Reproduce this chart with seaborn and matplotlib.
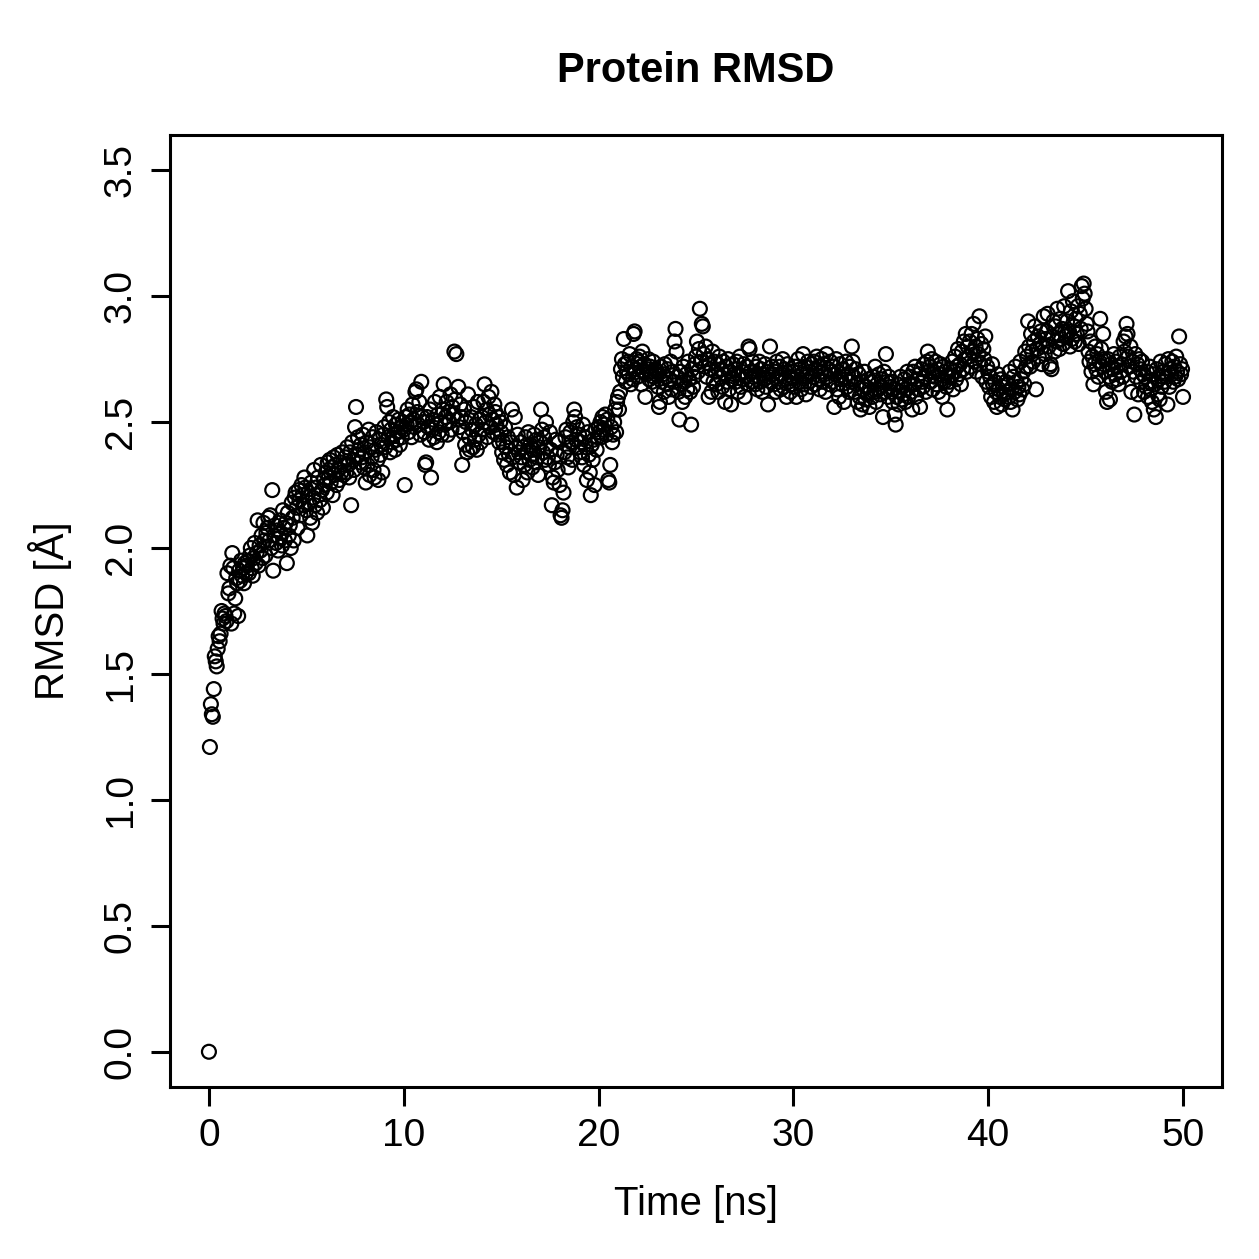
import numpy as np
import pandas as pd
import matplotlib
matplotlib.use("Agg")
import matplotlib.pyplot as plt
import seaborn as sns

# RMSD values (Å), 20 frames per ns, frame spacing 0.05 ns
rmsd_00 = [0.00, 1.21, 1.38, 1.34, 1.33, 1.44, 1.57, 1.55, 1.53, 1.60, 1.65, 1.63, 1.66, 1.75, 1.72, 1.70, 1.74, 1.73, 1.71, 1.90]
rmsd_01 = [1.82, 1.84, 1.93, 1.70, 1.98, 1.92, 1.74, 1.80, 1.88, 1.86, 1.73, 1.91, 1.87, 1.95, 1.89, 1.92, 1.86, 1.94, 1.90, 1.93]
rmsd_02 = [1.95, 1.90, 1.97, 2.00, 1.92, 1.89, 1.96, 2.02, 1.94, 1.98, 2.11, 1.93, 2.01, 1.99, 2.05, 1.96, 2.10, 2.03, 1.97, 2.06]
rmsd_03 = [2.08, 2.12, 2.03, 2.13, 2.00, 2.23, 1.91, 2.05, 2.09, 2.02, 2.07, 1.99, 2.04, 2.11, 2.06, 2.01, 2.15, 2.08, 2.03, 2.10]
rmsd_04 = [1.94, 2.14, 2.05, 2.09, 2.00, 2.18, 2.12, 2.03, 2.20, 2.22, 2.16, 2.08, 2.23, 2.19, 2.13, 2.25, 2.21, 2.17, 2.28, 2.24]
rmsd_05 = [2.15, 2.05, 2.22, 2.18, 2.12, 2.26, 2.10, 2.20, 2.31, 2.17, 2.24, 2.14, 2.28, 2.21, 2.19, 2.33, 2.23, 2.16, 2.27, 2.25]
rmsd_06 = [2.30, 2.22, 2.34, 2.28, 2.35, 2.26, 2.32, 2.21, 2.36, 2.29, 2.33, 2.25, 2.37, 2.31, 2.27, 2.34, 2.30, 2.38, 2.29, 2.33]
rmsd_07 = [2.36, 2.30, 2.40, 2.33, 2.28, 2.38, 2.17, 2.42, 2.35, 2.31, 2.48, 2.56, 2.37, 2.44, 2.39, 2.34, 2.41, 2.36, 2.45, 2.32]
rmsd_08 = [2.38, 2.26, 2.42, 2.33, 2.47, 2.29, 2.40, 2.36, 2.44, 2.31, 2.28, 2.39, 2.46, 2.35, 2.27, 2.43, 2.37, 2.41, 2.30, 2.45]
rmsd_09 = [2.48, 2.40, 2.59, 2.56, 2.44, 2.50, 2.38, 2.47, 2.42, 2.52, 2.45, 2.39, 2.49, 2.43, 2.46, 2.51, 2.41, 2.48, 2.44, 2.50]
rmsd_10 = [2.47, 2.25, 2.52, 2.49, 2.55, 2.46, 2.53, 2.50, 2.44, 2.57, 2.51, 2.48, 2.62, 2.63, 2.54, 2.49, 2.58, 2.45, 2.66, 2.52]
rmsd_11 = [2.50, 2.46, 2.33, 2.34, 2.52, 2.48, 2.43, 2.55, 2.28, 2.47, 2.51, 2.44, 2.58, 2.49, 2.42, 2.53, 2.46, 2.60, 2.50, 2.45]
rmsd_12 = [2.55, 2.65, 2.49, 2.52, 2.58, 2.45, 2.54, 2.50, 2.61, 2.47, 2.56, 2.53, 2.78, 2.59, 2.77, 2.51, 2.64, 2.48, 2.57, 2.52]
rmsd_13 = [2.33, 2.46, 2.55, 2.41, 2.50, 2.38, 2.61, 2.44, 2.39, 2.52, 2.47, 2.40, 2.56, 2.43, 2.49, 2.39, 2.58, 2.45, 2.51, 2.42]
rmsd_14 = [2.52, 2.47, 2.58, 2.65, 2.50, 2.55, 2.44, 2.60, 2.53, 2.48, 2.62, 2.51, 2.46, 2.57, 2.54, 2.49, 2.45, 2.52, 2.42, 2.50]
rmsd_15 = [2.46, 2.38, 2.42, 2.35, 2.48, 2.40, 2.33, 2.44, 2.37, 2.30, 2.42, 2.55, 2.36, 2.29, 2.52, 2.40, 2.24, 2.45, 2.38, 2.34]
rmsd_16 = [2.42, 2.36, 2.27, 2.40, 2.33, 2.44, 2.38, 2.30, 2.46, 2.35, 2.41, 2.37, 2.32, 2.39, 2.45, 2.34, 2.43, 2.36, 2.29, 2.40]
rmsd_17 = [2.42, 2.55, 2.47, 2.38, 2.44, 2.35, 2.50, 2.40, 2.36, 2.33, 2.46, 2.39, 2.17, 2.28, 2.26, 2.34, 2.43, 2.37, 2.31, 2.42]
rmsd_18 = [2.25, 2.13, 2.12, 2.15, 2.22, 2.38, 2.44, 2.47, 2.36, 2.32, 2.40, 2.46, 2.42, 2.35, 2.50, 2.55, 2.52, 2.43, 2.48, 2.40]
rmsd_19 = [2.45, 2.38, 2.42, 2.36, 2.49, 2.33, 2.44, 2.40, 2.27, 2.46, 2.37, 2.30, 2.21, 2.41, 2.35, 2.43, 2.25, 2.47, 2.39, 2.44]
rmsd_20 = [2.48, 2.46, 2.50, 2.44, 2.52, 2.47, 2.49, 2.53, 2.45, 2.51, 2.27, 2.26, 2.33, 2.48, 2.42, 2.45, 2.50, 2.55, 2.46, 2.58]
rmsd_21 = [2.60, 2.55, 2.62, 2.71, 2.75, 2.68, 2.83, 2.73, 2.66, 2.70, 2.74, 2.69, 2.77, 2.65, 2.72, 2.67, 2.85, 2.86, 2.71, 2.75]
rmsd_22 = [2.68, 2.74, 2.76, 2.72, 2.65, 2.78, 2.70, 2.73, 2.60, 2.69, 2.71, 2.75, 2.67, 2.72, 2.70, 2.66, 2.74, 2.68, 2.71, 2.69]
rmsd_23 = [2.70, 2.64, 2.56, 2.58, 2.72, 2.66, 2.69, 2.62, 2.73, 2.68, 2.65, 2.71, 2.60, 2.67, 2.74, 2.63, 2.70, 2.66, 2.82, 2.87]
rmsd_24 = [2.78, 2.68, 2.62, 2.51, 2.70, 2.65, 2.58, 2.72, 2.66, 2.60, 2.69, 2.63, 2.74, 2.67, 2.62, 2.49, 2.71, 2.64, 2.68, 2.73]
rmsd_25 = [2.76, 2.82, 2.70, 2.79, 2.95, 2.74, 2.89, 2.88, 2.77, 2.72, 2.80, 2.68, 2.75, 2.60, 2.73, 2.71, 2.62, 2.78, 2.66, 2.74]
rmsd_26 = [2.70, 2.65, 2.73, 2.62, 2.76, 2.68, 2.71, 2.64, 2.74, 2.69, 2.58, 2.72, 2.66, 2.75, 2.63, 2.70, 2.57, 2.67, 2.73, 2.69]
rmsd_27 = [2.71, 2.66, 2.74, 2.62, 2.69, 2.76, 2.64, 2.70, 2.67, 2.73, 2.60, 2.68, 2.72, 2.65, 2.80, 2.79, 2.70, 2.66, 2.74, 2.68]
rmsd_28 = [2.70, 2.65, 2.72, 2.63, 2.68, 2.74, 2.66, 2.71, 2.62, 2.69, 2.67, 2.73, 2.64, 2.70, 2.57, 2.68, 2.80, 2.66, 2.72, 2.69]
rmsd_29 = [2.65, 2.70, 2.62, 2.74, 2.68, 2.66, 2.72, 2.63, 2.69, 2.75, 2.64, 2.71, 2.67, 2.60, 2.73, 2.66, 2.70, 2.62, 2.68, 2.65]
rmsd_30 = [2.70, 2.64, 2.72, 2.60, 2.68, 2.75, 2.66, 2.71, 2.63, 2.69, 2.77, 2.65, 2.72, 2.61, 2.68, 2.74, 2.66, 2.70, 2.64, 2.73]
rmsd_31 = [2.68, 2.74, 2.65, 2.71, 2.76, 2.67, 2.72, 2.63, 2.70, 2.75, 2.66, 2.73, 2.69, 2.62, 2.77, 2.68, 2.71, 2.65, 2.74, 2.70]
rmsd_32 = [2.66, 2.72, 2.56, 2.69, 2.75, 2.63, 2.70, 2.60, 2.73, 2.67, 2.65, 2.71, 2.58, 2.68, 2.74, 2.64, 2.69, 2.62, 2.72, 2.66]
rmsd_33 = [2.80, 2.74, 2.68, 2.62, 2.71, 2.65, 2.58, 2.69, 2.60, 2.55, 2.66, 2.57, 2.63, 2.70, 2.59, 2.64, 2.61, 2.67, 2.56, 2.62]
rmsd_34 = [2.66, 2.60, 2.68, 2.62, 2.72, 2.58, 2.65, 2.63, 2.69, 2.61, 2.64, 2.67, 2.52, 2.70, 2.62, 2.77, 2.66, 2.60, 2.68, 2.64]
rmsd_35 = [2.62, 2.66, 2.58, 2.63, 2.53, 2.49, 2.60, 2.65, 2.57, 2.62, 2.68, 2.59, 2.64, 2.61, 2.67, 2.58, 2.63, 2.70, 2.60, 2.65]
rmsd_36 = [2.68, 2.62, 2.55, 2.70, 2.65, 2.72, 2.60, 2.67, 2.63, 2.69, 2.56, 2.71, 2.66, 2.64, 2.73, 2.68, 2.62, 2.74, 2.78, 2.70]
rmsd_37 = [2.72, 2.66, 2.75, 2.63, 2.70, 2.68, 2.74, 2.65, 2.71, 2.62, 2.69, 2.73, 2.67, 2.60, 2.72, 2.66, 2.70, 2.64, 2.55, 2.68]
rmsd_38 = [2.66, 2.71, 2.68, 2.74, 2.63, 2.70, 2.76, 2.67, 2.72, 2.79, 2.69, 2.73, 2.65, 2.78, 2.71, 2.82, 2.75, 2.85, 2.70, 2.80]
rmsd_39 = [2.76, 2.82, 2.72, 2.85, 2.78, 2.89, 2.74, 2.80, 2.70, 2.83, 2.77, 2.92, 2.73, 2.81, 2.68, 2.79, 2.75, 2.84, 2.66, 2.72]
rmsd_40 = [2.70, 2.64, 2.68, 2.60, 2.73, 2.65, 2.58, 2.66, 2.62, 2.56, 2.69, 2.63, 2.60, 2.67, 2.57, 2.64, 2.61, 2.59, 2.66, 2.62]
rmsd_41 = [2.65, 2.60, 2.70, 2.58, 2.63, 2.55, 2.68, 2.62, 2.72, 2.66, 2.59, 2.64, 2.61, 2.74, 2.67, 2.63, 2.70, 2.65, 2.78, 2.72]
rmsd_42 = [2.76, 2.90, 2.80, 2.72, 2.85, 2.78, 2.74, 2.82, 2.88, 2.63, 2.79, 2.84, 2.76, 2.81, 2.86, 2.73, 2.80, 2.92, 2.77, 2.83]
rmsd_43 = [2.86, 2.93, 2.80, 2.72, 2.73, 2.71, 2.84, 2.90, 2.78, 2.88, 2.82, 2.95, 2.85, 2.79, 2.91, 2.83, 2.87, 2.81, 2.96, 2.86]
rmsd_44 = [2.84, 2.90, 3.02, 2.86, 2.80, 2.94, 2.83, 2.98, 2.88, 2.82, 2.91, 2.85, 2.96, 2.81, 2.93, 2.87, 3.04, 2.99, 3.05, 3.01]
rmsd_45 = [2.95, 2.89, 2.86, 2.78, 2.74, 2.82, 2.70, 2.76, 2.65, 2.73, 2.80, 2.71, 2.77, 2.68, 2.74, 2.91, 2.79, 2.72, 2.85, 2.75]
rmsd_46 = [2.70, 2.62, 2.58, 2.75, 2.68, 2.59, 2.73, 2.66, 2.71, 2.77, 2.69, 2.74, 2.67, 2.72, 2.65, 2.76, 2.70, 2.73, 2.68, 2.82]
rmsd_47 = [2.78, 2.84, 2.89, 2.85, 2.76, 2.72, 2.80, 2.62, 2.74, 2.70, 2.53, 2.77, 2.68, 2.73, 2.61, 2.75, 2.71, 2.66, 2.74, 2.69]
rmsd_48 = [2.62, 2.68, 2.64, 2.70, 2.60, 2.66, 2.72, 2.63, 2.58, 2.69, 2.55, 2.65, 2.52, 2.71, 2.61, 2.67, 2.59, 2.74, 2.64, 2.68]
rmsd_49 = [2.70, 2.66, 2.73, 2.68, 2.57, 2.75, 2.64, 2.71, 2.69, 2.74, 2.66, 2.72, 2.68, 2.76, 2.70, 2.67, 2.84, 2.73, 2.69, 2.71]
rmsd_50 = [2.60]

segments = [rmsd_00, rmsd_01, rmsd_02, rmsd_03, rmsd_04, rmsd_05, rmsd_06, rmsd_07, rmsd_08, rmsd_09,
            rmsd_10, rmsd_11, rmsd_12, rmsd_13, rmsd_14, rmsd_15, rmsd_16, rmsd_17, rmsd_18, rmsd_19,
            rmsd_20, rmsd_21, rmsd_22, rmsd_23, rmsd_24, rmsd_25, rmsd_26, rmsd_27, rmsd_28, rmsd_29,
            rmsd_30, rmsd_31, rmsd_32, rmsd_33, rmsd_34, rmsd_35, rmsd_36, rmsd_37, rmsd_38, rmsd_39,
            rmsd_40, rmsd_41, rmsd_42, rmsd_43, rmsd_44, rmsd_45, rmsd_46, rmsd_47, rmsd_48, rmsd_49,
            rmsd_50]
rmsd = [v for seg in segments for v in seg]
frame_step_ns = 0.05
time_ns = [i * frame_step_ns for i in range(len(rmsd))]

x_ticks = [0, 10, 20, 30, 40, 50]
y_ticks = [0.0, 0.5, 1.0, 1.5, 2.0, 2.5, 3.0, 3.5]
y_tick_labels = ["0.0", "0.5", "1.0", "1.5", "2.0", "2.5", "3.0", "3.5"]

df = pd.DataFrame({"time": time_ns, "rmsd": rmsd})

plt.rcParams["font.family"] = ["Liberation Sans", "DejaVu Sans"]
fig = plt.figure(figsize=(12.59, 12.59), dpi=100)
ax = fig.add_axes([0.135, 0.1366, 0.8356, 0.7562])

sns.scatterplot(data=df, x="time", y="rmsd", ax=ax, marker="o", s=100,
                linewidth=1.6, legend=False)
coll = ax.collections[0]
coll.set_facecolor("none")
coll.set_edgecolor("black")
coll.set_linewidth(1.6)

ax.set_xlim(-2, 52)
ax.set_ylim(-0.14, 3.64)
ax.set_xticks(x_ticks)
ax.set_yticks(y_ticks)
ax.set_yticklabels(y_tick_labels)
ax.tick_params(axis="both", direction="out", length=13.5, width=2.2,
               labelsize=28, color="black", pad=9)
ax.tick_params(axis="y", labelrotation=90)
for lab in ax.get_yticklabels():
    lab.set_va("center")
for sp in ax.spines.values():
    sp.set_linewidth(2.2)
    sp.set_color("black")

ax.set_xlabel("Time [ns]", fontsize=29, labelpad=22)
ax.set_ylabel("RMSD [Å]", fontsize=29, labelpad=22)
ax.set_title("Protein RMSD", fontsize=30, fontweight="bold", pad=38)

fig.savefig("out.png", dpi=100)
